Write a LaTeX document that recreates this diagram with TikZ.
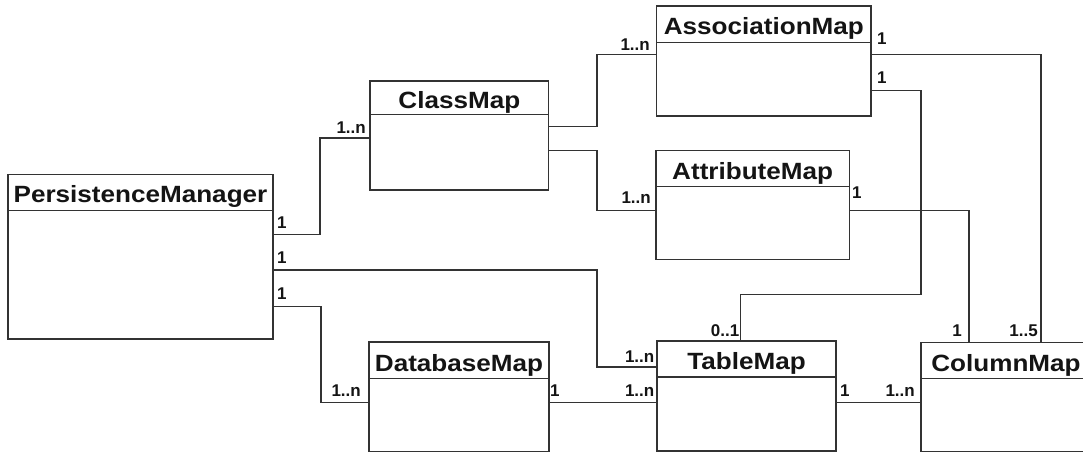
\documentclass[tikz,border=0pt]{standalone}
\usepackage{fontspec}
\setmainfont{Liberation Sans}
\newfontfamily\titlefont[FakeStretch=1.11]{Liberation Sans}
\newfontfamily\multfont[FakeStretch=1.0]{Liberation Sans}
\begin{document}
\begin{tikzpicture}[x=1pt,y=-1pt,
  linecol/.style={draw=black!80, line width=1.3pt},
  cls/.style={rectangle, linecol, fill=white, anchor=north west, inner sep=0pt, outer sep=0pt},
  ttl/.style={anchor=base, inner sep=0pt, text=black!92, font=\titlefont\bfseries\fontsize{23.5}{27}\selectfont},
  mult/.style={inner sep=0pt, text=black!92, font=\multfont\bfseries\fontsize{17}{20}\selectfont},
  conn/.style={linecol}]
\useasboundingbox (0,0) rectangle (1083,452);

% boxes
\node[cls, minimum width=265pt, minimum height=164.3pt] (pm) at (8,174.7) {};
\node[cls, minimum width=178.7pt, minimum height=109pt] (cm) at (370,81) {};
\node[cls, minimum width=214.3pt, minimum height=110pt] (am) at (656.7,6) {};
\node[cls, minimum width=193.3pt, minimum height=108.6pt] (atm) at (656,150.7) {};
\node[cls, minimum width=180pt, minimum height=109.7pt] (dm) at (369,342) {};
\node[cls, minimum width=179pt, minimum height=110pt] (tm) at (657,341) {};
\node[cls, minimum width=170pt, minimum height=109pt] (colm) at (921,342.3) {};

% dividers
\draw[linecol] ([yshift=-36pt]pm.north west) -- ([yshift=-36pt]pm.north east);
\draw[linecol] ([yshift=-33.3pt]cm.north west) -- ([yshift=-33.3pt]cm.north east);
\draw[linecol] ([yshift=-36.7pt]am.north west) -- ([yshift=-36.7pt]am.north east);
\draw[linecol] ([yshift=-36pt]atm.north west) -- ([yshift=-36pt]atm.north east);
\draw[linecol] ([yshift=-36.7pt]dm.north west) -- ([yshift=-36.7pt]dm.north east);
\draw[linecol] ([yshift=-36pt]tm.north west) -- ([yshift=-36pt]tm.north east);
\draw[linecol] ([yshift=-36.4pt]colm.north west) -- ([yshift=-36.4pt]colm.north east);

% titles
\node[ttl] (pmt) at ([yshift=-28pt]pm.north) {PersistenceManager};
\node[ttl] (cmt) at ([yshift=-27pt]cm.north) {ClassMap};
\node[ttl] (amt) at ([yshift=-29pt]am.north) {AssociationMap};
\node[ttl] (atmt) at ([yshift=-28.5pt]atm.north) {AttributeMap};
\node[ttl] (dmt) at ([yshift=-29pt]dm.north) {DatabaseMap};
\node[ttl] (tmt) at ([yshift=-28.5pt]tm.north) {TableMap};
\node[ttl] (colt) at ([yshift=-29pt]colm.north) {ColumnMap};

% connectors
\draw[conn] (pm.east |- 0,234.7) -| (320,138) -- (cm.west |- 0,138);
\draw[conn] (pm.east |- 0,270) -| (597,367) -- (tm.west |- 0,367);
\draw[conn] (pm.east |- 0,306.7) -| (321,402.7) -- (dm.west |- 0,402.7);
\draw[conn] (cm.east |- 0,126.7) -| (597,54.3) -- (am.west |- 0,54.3);
\draw[conn] (cm.east |- 0,150.3) -| (597,210.7) -- (atm.west |- 0,210.7);
\draw[conn] (am.east |- 0,54.3) -| (1041,0 |- colm.north);
\draw[conn] (am.east |- 0,90.7) -| (921,294.7) -| (740.7,0 |- tm.north);
\draw[conn] (atm.east |- 0,210.7) -| (969,0 |- colm.north);
\draw[conn] (dm.east |- 0,402.7) -- (tm.west |- 0,402.7);
\draw[conn] (tm.east |- 0,402.7) -- (colm.west |- 0,402.7);

% multiplicities
\node[mult, anchor=base west] (m1) at (277,228) {1};
\node[mult, anchor=base west] (m2) at (277,263) {1};
\node[mult, anchor=base west] (m3) at (277,299) {1};
\node[mult, anchor=base east] (m4) at (366,133) {1..n};
\node[mult, anchor=base east] (m5) at (650,50.7) {1..n};
\node[mult, anchor=base east] (m6) at (651,203) {1..n};
\node[mult, anchor=base west] (m7) at (877,45) {1};
\node[mult, anchor=base west] (m8) at (877,83.3) {1};
\node[mult, anchor=base west] (m9) at (852,198.3) {1};
\node[mult, anchor=base east] (m10) at (739.5,336) {0..1};
\node[mult, anchor=base east] (m11) at (962,336) {1};
\node[mult, anchor=base east] (m12) at (1038,336) {1..5};
\node[mult, anchor=base east] (m13) at (361,396.7) {1..n};
\node[mult, anchor=base west] (m14) at (550,396.7) {1};
\node[mult, anchor=base east] (m15) at (654.5,396.7) {1..n};
\node[mult, anchor=base east] (m16) at (654.5,362.7) {1..n};
\node[mult, anchor=base west] (m17) at (840,396.7) {1};
\node[mult, anchor=base east] (m18) at (915,396.7) {1..n};
\end{tikzpicture}
\end{document}
